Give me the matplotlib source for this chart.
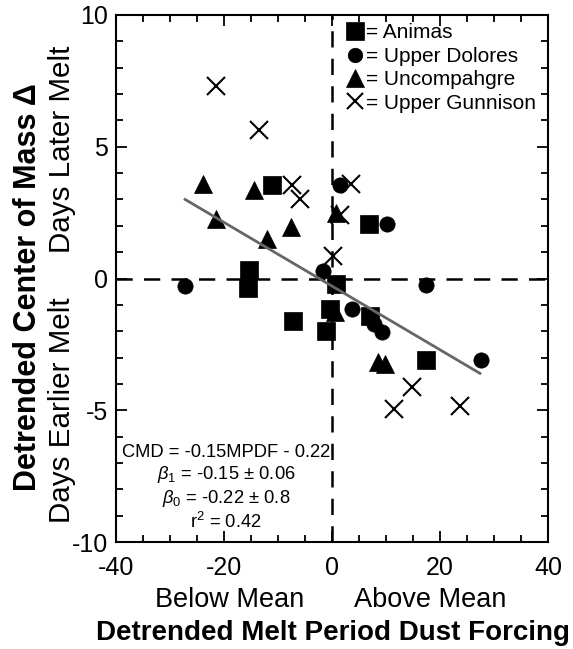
import matplotlib
matplotlib.use("Agg")
import matplotlib.pyplot as plt
from matplotlib.ticker import MultipleLocator

plt.rcParams['font.family'] = ['Liberation Sans', 'DejaVu Sans']
plt.rcParams['mathtext.fontset'] = 'custom'
plt.rcParams['mathtext.rm'] = 'Liberation Sans'
plt.rcParams['mathtext.it'] = 'Liberation Sans:italic'
plt.rcParams['axes.unicode_minus'] = False

# ---- data ----
animas_x = [-11.2, -15.3, -15.5, -7.2, 0.8, -0.4, -1.2, 7.0, 6.85, 17.4]
animas_y = [3.54, 0.33, -0.35, -1.63, -0.2, -1.15, -2.0, -1.41, 2.08, -3.09]

dolores_x = [-27.2, -1.7, 1.5, 10.2, 17.4, 3.7, 7.7, 9.3, 27.5]
dolores_y = [-0.3, 0.28, 3.55, 2.08, -0.24, -1.17, -1.72, -2.02, -3.09]

uncomp_x = [-23.8, -14.4, -21.5, -7.6, -12.1, 0.8, 0.55, 8.6, 9.8]
uncomp_y = [3.6, 3.35, 2.27, 1.95, 1.5, 2.5, -1.28, -3.18, -3.25]

gunn_x = [-21.4, -13.5, -7.5, -5.9, 0.2, 1.5, 3.6, 14.9, 11.5, 23.7]
gunn_y = [7.3, 5.65, 3.54, 3.0, 0.86, 2.4, 3.6, -4.13, -4.96, -4.83]

fit_x = [-27.2, 27.4]
fit_y = [3.0, -3.6]

series_labels = ["= Animas", "= Upper Dolores", "= Uncompahgre", "= Upper Gunnison"]
stats_lines = ["CMD = -0.15MPDF - 0.22",
               r"$\beta_1$ = -0.15 $\pm$ 0.06",
               r"$\beta_0$ = -0.22 $\pm$ 0.8",
               r"r$^2$ = 0.42"]
x_ticks = [-40, -20, 0, 20, 40]
y_ticks = [-10, -5, 0, 5, 10]

# ---- figure ----
fig = plt.figure(figsize=(5.73, 6.49), dpi=100)
ax = fig.add_axes([116/573, 107/649, 432/573, 527/649])

ax.axhline(0, color='black', lw=1.8, ls=(0, (6.5, 4.5)), zorder=1)
ax.axvline(0, color='black', lw=1.8, ls=(0, (6.5, 4.5)), zorder=1)

ax.plot(fit_x, fit_y, color='#666666', lw=2.0, zorder=3)

ax.plot(animas_x, animas_y, 's', ms=13, color='black', mec='black', mew=0.5,
        ls='none', label=series_labels[0], zorder=2)
ax.plot(dolores_x, dolores_y, 'o', ms=11, color='black', mec='black', mew=0.5,
        ls='none', label=series_labels[1], zorder=2)
ax.plot(uncomp_x, uncomp_y, '^', ms=13, color='black', mec='black', mew=0.5,
        ls='none', label=series_labels[2], zorder=2)
ax.plot(gunn_x, gunn_y, 'x', ms=12.5, color='black', mew=1.5,
        ls='none', label=series_labels[3], zorder=2)

ax.set_xlim(-40, 40)
ax.set_ylim(-10, 10)
ax.set_xticks(x_ticks)
ax.set_yticks(y_ticks)
ax.xaxis.set_minor_locator(MultipleLocator(5))
ax.yaxis.set_minor_locator(MultipleLocator(1))
ax.tick_params(which='both', direction='in', top=True, right=True,
               width=1.3, labelsize=18)
ax.tick_params(axis='x', which='major', pad=10)
ax.tick_params(axis='y', which='major', pad=6)
ax.tick_params(which='major', length=8)
ax.tick_params(which='minor', length=5)
for s in ax.spines.values():
    s.set_linewidth(1.5)

leg = ax.legend(loc='upper left', bbox_to_anchor=(0.535, 0.984), frameon=False,
                fontsize=15, handlelength=0.8, handletextpad=0.1,
                labelspacing=0.21, borderpad=0.0, borderaxespad=0.0,
                markerscale=0.95)

ax.text(0.255, 0.019, "\n".join(stats_lines), transform=ax.transAxes,
        ha='center', va='bottom', fontsize=13.2, linespacing=1.19)

# axis labels
fig.text(230/573, 1 - 600/649, "Below Mean", ha='center', va='center', fontsize=19.5)
fig.text(430/573, 1 - 600/649, "Above Mean", ha='center', va='center', fontsize=19.5)
fig.text(333/573, 1 - 633/649, "Detrended Melt Period Dust Forcing",
         ha='center', va='center', fontsize=20, fontweight='bold')

fig.text(28/573, 1 - 287/649, "Detrended Center of Mass \u0394", rotation=90,
         ha='center', va='center', fontsize=22, fontweight='bold')
fig.text(62/573, 1 - 149/649, "Days Later Melt", rotation=90,
         ha='center', va='center', fontsize=21.3)
fig.text(62/573, 1 - 410/649, "Days Earlier Melt", rotation=90,
         ha='center', va='center', fontsize=21.3)

fig.savefig("out.png", dpi=100)
